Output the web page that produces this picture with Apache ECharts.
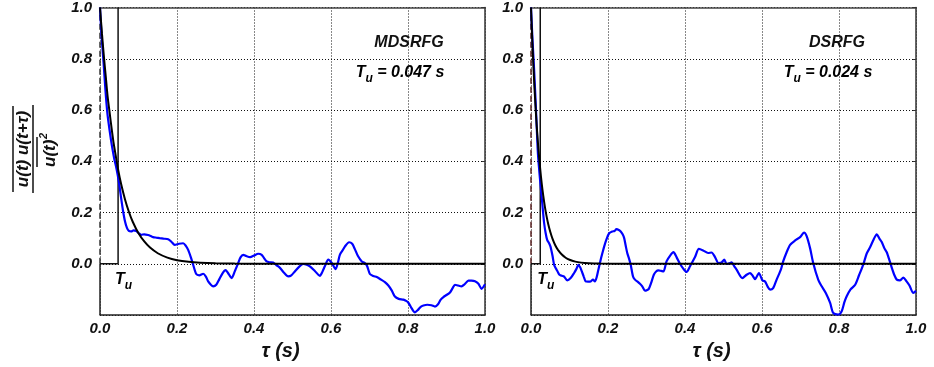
<!DOCTYPE html>
<html>
<head>
<meta charset="utf-8">
<script src="https://cdn.jsdelivr.net/npm/echarts@6/dist/echarts.min.js"></script>
<style>
  html, body { margin: 0; padding: 0; background: #fff; }
  #main { width: 934px; height: 367px; }
</style>
</head>
<body>
<div id="main"></div>
<script>
// Normalised autocorrelation of u for the two inflow generators
const panelNames = ['MDSRFG', 'DSRFG'];
const tuValues = [0.047, 0.024];
const tuTexts = ['0.047', '0.024'];

const mdsrfgTau = [0, 0.004, 0.009, 0.014, 0.019, 0.025, 0.031, 0.037, 0.043, 0.049, 0.055, 0.060, 0.065, 0.070, 0.075,
  0.081, 0.087, 0.094, 0.100, 0.107, 0.115, 0.125, 0.132, 0.138, 0.146, 0.155, 0.165, 0.177, 0.186, 0.194,
  0.205, 0.216, 0.223, 0.229, 0.236, 0.242, 0.250, 0.258, 0.268, 0.275, 0.281, 0.288, 0.294, 0.302, 0.310,
  0.319, 0.326, 0.332, 0.342, 0.350, 0.359, 0.365, 0.372, 0.380, 0.390, 0.400, 0.411, 0.420, 0.427, 0.433,
  0.440, 0.450, 0.458, 0.468, 0.478, 0.489, 0.497, 0.506, 0.517, 0.528, 0.537, 0.545, 0.558, 0.571, 0.578,
  0.584, 0.593, 0.602, 0.612, 0.618, 0.623, 0.630, 0.636, 0.647, 0.655, 0.662, 0.670, 0.680, 0.688, 0.694,
  0.701, 0.710, 0.719, 0.730, 0.740, 0.749, 0.758, 0.766, 0.776, 0.788, 0.795, 0.801, 0.808, 0.818, 0.826,
  0.833, 0.840, 0.850, 0.861, 0.870, 0.878, 0.885, 0.892, 0.900, 0.909, 0.916, 0.922, 0.930, 0.939, 0.947,
  0.957, 0.965, 0.974, 0.983, 0.991, 1.000];
const mdsrfgR = [1.0, 0.89, 0.79, 0.68, 0.59, 0.52, 0.46, 0.41, 0.37, 0.32, 0.255, 0.205, 0.165, 0.14, 0.128,
  0.126, 0.130, 0.128, 0.120, 0.113, 0.115, 0.112, 0.108, 0.104, 0.102, 0.100, 0.098, 0.096, 0.085, 0.074,
  0.078, 0.080, 0.070, 0.054, 0.025, -0.004, -0.040, -0.045, -0.039, -0.050, -0.069, -0.082, -0.088, -0.082, -0.060,
  -0.036, -0.025, -0.035, -0.056, -0.030, 0.003, 0.025, 0.035, 0.030, 0.026, 0.032, 0.039, 0.035, 0.020, 0.009,
  0.006, 0.005, -0.005, -0.017, -0.035, -0.049, -0.045, -0.030, -0.012, -0.001, -0.004, -0.010, -0.028, -0.047, -0.030,
  -0.010, 0.016, 0.003, -0.021, 0.005, 0.035, 0.052, 0.067, 0.084, 0.078, 0.057, 0.030, 0.009, 0.003, -0.010,
  -0.040, -0.048, -0.052, -0.062, -0.072, -0.085, -0.105, -0.128, -0.137, -0.140, -0.145, -0.152, -0.170, -0.190, -0.180,
  -0.168, -0.163, -0.160, -0.162, -0.167, -0.158, -0.140, -0.130, -0.122, -0.112, -0.095, -0.082, -0.085, -0.088, -0.080,
  -0.066, -0.066, -0.068, -0.078, -0.098, -0.080];

const dsrfgTau = [0, 0.004, 0.008, 0.013, 0.018, 0.024, 0.029, 0.034, 0.038, 0.042, 0.047, 0.051, 0.056, 0.060, 0.064,
  0.069, 0.074, 0.080, 0.086, 0.094, 0.103, 0.112, 0.118, 0.123, 0.128, 0.132, 0.137, 0.142, 0.148, 0.155,
  0.161, 0.166, 0.171, 0.175, 0.181, 0.186, 0.190, 0.196, 0.203, 0.211, 0.217, 0.222, 0.228, 0.233, 0.238,
  0.242, 0.246, 0.250, 0.255, 0.259, 0.265, 0.270, 0.276, 0.283, 0.289, 0.296, 0.302, 0.306, 0.312, 0.319,
  0.325, 0.331, 0.338, 0.344, 0.352, 0.361, 0.370, 0.378, 0.387, 0.396, 0.404, 0.413, 0.426, 0.436, 0.447,
  0.460, 0.469, 0.478, 0.487, 0.495, 0.502, 0.508, 0.515, 0.521, 0.528, 0.534, 0.549, 0.560, 0.569, 0.575,
  0.582, 0.592, 0.601, 0.608, 0.615, 0.621, 0.629, 0.638, 0.649, 0.655, 0.664, 0.673, 0.686, 0.699, 0.709,
  0.716, 0.725, 0.733, 0.746, 0.755, 0.766, 0.777, 0.785, 0.798, 0.807, 0.814, 0.820, 0.830, 0.842, 0.852,
  0.863, 0.872, 0.881, 0.890, 0.898, 0.905, 0.911, 0.918, 0.924, 0.932, 0.937, 0.944, 0.950, 0.958, 0.967,
  0.975, 0.983, 0.993, 1.000];
const dsrfgR = [1.0, 0.87, 0.76, 0.60, 0.43, 0.32, 0.24, 0.16, 0.12, 0.093, 0.080, 0.065, 0.030, -0.004, -0.017,
  -0.030, -0.043, -0.047, -0.050, -0.065, -0.056, -0.036, -0.020, -0.004, -0.015, -0.030, -0.050, -0.069, -0.070, -0.069,
  -0.062, -0.069, -0.050, -0.023, 0.016, 0.045, 0.067, 0.095, 0.119, 0.126, 0.128, 0.135, 0.132, 0.126, 0.115,
  0.100, 0.070, 0.042, 0.018, -0.004, -0.050, -0.062, -0.069, -0.078, -0.088, -0.105, -0.102, -0.098, -0.075, -0.043,
  -0.030, -0.026, -0.028, -0.030, 0.009, 0.031, 0.045, 0.026, 0.000, -0.020, -0.032, -0.010, 0.026, 0.058, 0.052,
  0.042, 0.044, 0.026, 0.003, 0.005, 0.016, -0.001, 0.002, 0.005, -0.010, -0.023, -0.056, -0.043, -0.036, -0.045,
  -0.060, -0.036, -0.065, -0.069, -0.090, -0.101, -0.095, -0.062, -0.023, 0.009, 0.045, 0.074, 0.091, 0.104, 0.122,
  0.108, 0.060, 0.003, -0.062, -0.088, -0.115, -0.153, -0.192, -0.198, -0.185, -0.150, -0.127, -0.100, -0.082, -0.045,
  -0.003, 0.040, 0.065, 0.095, 0.115, 0.098, 0.085, 0.060, 0.045, 0.009, -0.015, -0.045, -0.062, -0.065, -0.054,
  -0.068, -0.085, -0.114, -0.106];

// Exponential fit curves, sampled
const mdsrfgFitTau = [0, 0.005, 0.01, 0.015, 0.02, 0.025, 0.03, 0.035, 0.04, 0.047, 0.055, 0.065, 0.075, 0.085, 0.10,
  0.115, 0.13, 0.15, 0.175, 0.20, 0.23, 0.26, 0.30, 0.35, 0.40, 0.50, 1.0];
const mdsrfgFit = [1.0, 0.90, 0.81, 0.73, 0.65, 0.59, 0.53, 0.475, 0.43, 0.368, 0.31, 0.251, 0.203, 0.164, 0.119,
  0.087, 0.063, 0.041, 0.024, 0.014, 0.0075, 0.004, 0.0017, 0.0006, 0.0002, 0, 0];
const dsrfgFitTau = [0, 0.003, 0.006, 0.009, 0.012, 0.015, 0.018, 0.021, 0.024, 0.028, 0.032, 0.036, 0.04, 0.045, 0.05,
  0.056, 0.063, 0.07, 0.08, 0.09, 0.10, 0.115, 0.13, 0.15, 0.18, 0.25, 1.0];
const dsrfgFit = [1.0, 0.883, 0.779, 0.687, 0.607, 0.535, 0.472, 0.417, 0.368, 0.311, 0.264, 0.223, 0.189, 0.153, 0.125,
  0.097, 0.072, 0.054, 0.036, 0.0235, 0.0155, 0.0083, 0.0044, 0.0019, 0.0006, 0, 0];

const xTickStep = 0.2;
const yMin = -0.2, yMax = 1.0, yStep = 0.2;

const zip = (a, b) => a.map((v, i) => [v, b[i]]);
const curves = [
  { blue: zip(mdsrfgTau, mdsrfgR), fit: zip(mdsrfgFitTau, mdsrfgFit), edge: '#333333' },
  { blue: zip(dsrfgTau, dsrfgR), fit: zip(dsrfgFitTau, dsrfgFit), edge: '#5a2222' }
];

const FONT = 'Liberation Sans, Arial, sans-serif';
const labelStyle = { fontFamily: FONT, fontWeight: 'bold', fontStyle: 'italic', fontSize: 15, color: '#111' };
const gridLine = { type: [1, 2], color: '#111', width: 1 };

const grids = [
  { left: 100, top: 7, width: 385, height: 308 },
  { left: 531, top: 7, width: 385, height: 308 }
];

const xAxes = [], yAxes = [], series = [];
[0, 1].forEach(p => {
  xAxes.push({
    gridIndex: p, type: 'value', min: 0, max: 1, interval: xTickStep, position: 'bottom',
    axisLine: { show: true, onZero: false, lineStyle: { color: '#222', width: 1.5 } },
    axisTick: { show: false },
    axisLabel: Object.assign({ margin: 6, formatter: v => v.toFixed(1) }, labelStyle),
    splitLine: { show: true, lineStyle: gridLine },
    name: 'τ (s)', nameLocation: 'middle', nameGap: 26,
    nameTextStyle: { fontFamily: FONT, fontWeight: 'bold', fontStyle: 'italic', fontSize: 20, color: '#111', padding: [0, 24, 0, 0] }
  });
  xAxes.push({
    gridIndex: p, type: 'value', min: 0, max: 1, interval: xTickStep, position: 'top',
    axisLine: { show: true, onZero: false, lineStyle: { color: '#444', width: 1.5 } },
    axisTick: { show: false }, axisLabel: { show: false }, splitLine: { show: false }
  });
  yAxes.push({
    gridIndex: p, type: 'value', min: yMin, max: yMax, interval: yStep, position: 'left',
    axisLine: { show: false }, axisTick: { show: false },
    axisLabel: Object.assign({ margin: 8, formatter: v => (v < -0.1 ? '' : v.toFixed(1)) }, labelStyle),
    splitLine: { show: true, lineStyle: gridLine }
  });
  yAxes.push({
    gridIndex: p, type: 'value', min: yMin, max: yMax, interval: yStep, position: 'right',
    axisLine: { show: true, onZero: false, lineStyle: { color: '#333', width: 1.5 } },
    axisTick: { show: true, inside: true, length: 3, lineStyle: { color: '#333' } },
    axisLabel: { show: false }, splitLine: { show: false }
  });

  const base = { type: 'line', xAxisIndex: 2 * p, yAxisIndex: 2 * p, showSymbol: false, symbol: 'none', silent: true, animation: false };
  const tu = tuValues[p];
  // lower part of the left frame
  series.push(Object.assign({}, base, { data: [[0, yMin], [0, 0]], lineStyle: { color: '#222', width: 1.5 }, z: 3 }));
  // integral-scale box: dashed side on the axis, solid side at T_u
  series.push(Object.assign({}, base, { data: [[0, 0], [0, 1]], lineStyle: { color: curves[p].edge, width: 1.5, type: [6, 3] }, z: 3 }));
  series.push(Object.assign({}, base, { data: [[0, 0], [tu, 0], [tu, 1]], lineStyle: { color: '#111', width: 1.5 }, z: 3 }));
  // measured autocorrelation
  series.push(Object.assign({}, base, { data: curves[p].blue, smooth: 0.25, lineStyle: { color: '#0000ff', width: 2.2 }, z: 4 }));
  // exponential fit
  series.push(Object.assign({}, base, { data: curves[p].fit, smooth: 0.3, lineStyle: { color: '#000', width: 2 }, z: 5 }));
});

const rich = {
  t: { fontFamily: FONT, fontWeight: 'bold', fontStyle: 'italic', fontSize: 16, color: '#111', lineHeight: 24, verticalAlign: 'middle' },
  s: { fontFamily: FONT, fontWeight: 'bold', fontStyle: 'italic', fontSize: 12, color: '#111', lineHeight: 24, verticalAlign: 'bottom' }
};
const richSmall = {
  t: Object.assign({}, rich.t, { fontSize: 16 }),
  s: Object.assign({}, rich.s, { fontSize: 12 })
};

const titleStyle = { fontFamily: FONT, fontWeight: 'bold', fontStyle: 'italic', fontSize: 16, fill: '#111' };
const graphic = [
  { type: 'text', x: 409, y: 43, style: Object.assign({ text: panelNames[0], align: 'center', verticalAlign: 'middle' }, titleStyle) },
  { type: 'text', x: 400, y: 73, style: { text: '{t|T}{s|u}{t| = ' + tuTexts[0] + ' s}', rich: rich, align: 'center', verticalAlign: 'middle' } },
  { type: 'text', x: 837, y: 43, style: Object.assign({ text: panelNames[1], align: 'center', verticalAlign: 'middle' }, titleStyle) },
  { type: 'text', x: 828, y: 73, style: { text: '{t|T}{s|u}{t| = ' + tuTexts[1] + ' s}', rich: rich, align: 'center', verticalAlign: 'middle' } },
  // y-axis title: overlined correlation over overlined mean square
  {
    type: 'group', x: 33, y: 149, rotation: Math.PI / 2,
    children: [
      { type: 'text', x: 0, y: -10, style: { text: 'u(t) u(t+τ)', align: 'center', verticalAlign: 'middle', fontFamily: FONT, fontWeight: 'bold', fontStyle: 'italic', fontSize: 17, fill: '#111' } },
      { type: 'line', shape: { x1: -43, y1: -20, x2: 43, y2: -20 }, style: { stroke: '#111', lineWidth: 1.5 } },
      { type: 'line', shape: { x1: -44, y1: 0, x2: 44, y2: 0 }, style: { stroke: '#111', lineWidth: 1.5 } },
      { type: 'line', shape: { x1: -18, y1: 4, x2: 12, y2: 4 }, style: { stroke: '#111', lineWidth: 1.5 } },
      { type: 'text', x: -18, y: 17, style: { text: 'u(t)', align: 'left', verticalAlign: 'middle', fontFamily: FONT, fontWeight: 'bold', fontStyle: 'italic', fontSize: 17, fill: '#111' } },
      { type: 'text', x: 10, y: 11, style: { text: '2', align: 'left', verticalAlign: 'middle', fontFamily: FONT, fontWeight: 'bold', fontStyle: 'italic', fontSize: 11, fill: '#111' } }
    ]
  }
];

const chart = echarts.init(document.getElementById('main'), null, { renderer: 'canvas' });
chart.setOption({
  animation: false,
  backgroundColor: '#fff',
  grid: grids,
  xAxis: xAxes,
  yAxis: yAxes,
  series: series,
  graphic: graphic
});

// T_u markers placed just below the foot of each integral-scale box
const extra = [0, 1].map(p => {
  const pt = chart.convertToPixel({ xAxisIndex: 2 * p, yAxisIndex: 2 * p }, [tuValues[p], 0]);
  return { type: 'text', x: pt[0] - 3, y: pt[1] + 16, style: { text: '{t|T}{s|u}', rich: richSmall, align: 'left', verticalAlign: 'middle' } };
});
chart.setOption({ graphic: graphic.concat(extra) });
</script>
</body>
</html>
